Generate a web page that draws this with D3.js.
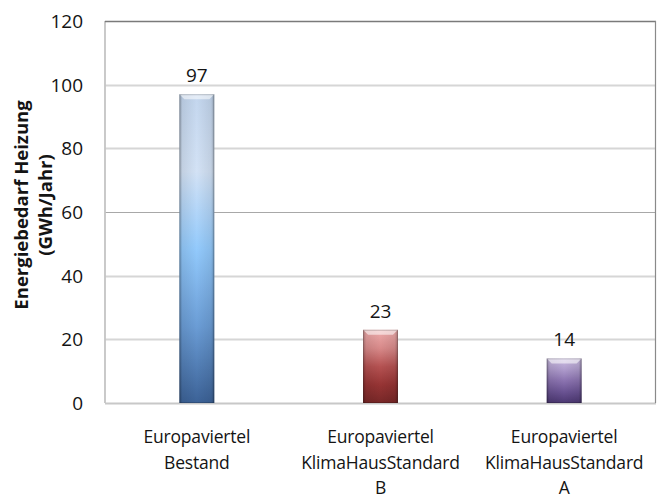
<!DOCTYPE html>
<html>
<head>
<meta charset="utf-8">
<script src="https://cdn.jsdelivr.net/npm/d3@7"></script>
<style>
  html, body { margin: 0; padding: 0; background: #fff; }
  svg { display: block; font-family: "Open Sans", "Noto Sans", sans-serif; }
</style>
</head>
<body>
<svg id="chart" width="657" height="500"></svg>
<script>
// Heating energy demand per scenario (GWh per year)
const categories = [
  ["Europaviertel", "Bestand"],
  ["Europaviertel", "KlimaHausStandard", "B"],
  ["Europaviertel", "KlimaHausStandard", "A"]
];
const values = [97, 23, 14];
const yTicks = [0, 20, 40, 60, 80, 100, 120];
const yTitle = ["Energiebedarf Heizung", "(GWh/Jahr)"];

// colour ramps for each bar, top to bottom
const ramps = [
  ["#c3d6ee", "#d3e2f5", "#93cafc", "#6b9dd6", "#3c6297"],
  ["#eeadad", "#d88a8a", "#b55252", "#963434", "#772727"],
  ["#cbbde2", "#ae9bcc", "#8b73b0", "#6a5393", "#4c3872"]
];

const svg = d3.select("#chart");
const margin = { left: 105, right: 1, top: 21, bottom: 97 };
const W = 657, H = 500;

const x = d3.scaleBand()
  .domain(d3.range(values.length))
  .range([margin.left, W - margin.right])
  .paddingInner(0.81)
  .paddingOuter(0.405);

const y = d3.scaleLinear()
  .domain([0, 120])
  .range([H - margin.bottom, margin.top]);

// gradients
const defs = svg.append("defs");
ramps.forEach((ramp, i) => {
  const g = defs.append("linearGradient")
    .attr("id", "bar" + i)
    .attr("x1", 0).attr("y1", 0).attr("x2", 0).attr("y2", 1);
  ramp.forEach((c, k) => {
    g.append("stop").attr("offset", k / (ramp.length - 1)).attr("stop-color", c);
  });
});
const side = defs.append("linearGradient").attr("id", "side")
  .attr("x1", 0).attr("y1", 0).attr("x2", 1).attr("y2", 0);
side.append("stop").attr("offset", 0).attr("stop-color", "#000").attr("stop-opacity", 0.28);
side.append("stop").attr("offset", 0.09).attr("stop-color", "#000").attr("stop-opacity", 0.08);
side.append("stop").attr("offset", 0.5).attr("stop-color", "#000").attr("stop-opacity", 0);
side.append("stop").attr("offset", 0.91).attr("stop-color", "#000").attr("stop-opacity", 0.08);
side.append("stop").attr("offset", 1).attr("stop-color", "#000").attr("stop-opacity", 0.28);

// gridlines
const x0 = margin.left, x1 = W - margin.right;
svg.append("g").selectAll("line")
  .data(yTicks.filter(t => t > 0 && t < 120))
  .join("line")
  .attr("x1", x0).attr("x2", x1)
  .attr("y1", d => Math.round(y(d)) + 0.5)
  .attr("y2", d => Math.round(y(d)) + 0.5)
  .attr("stroke", d => d === 60 ? "#a8a8a8" : "#d6d6d6")
  .attr("stroke-width", d => d === 60 ? 1.2 : 1.8);

// plot frame: light left/bottom axis, darker top/right edges
svg.append("line")
  .attr("x1", x0).attr("x2", x0).attr("y1", y(120)).attr("y2", y(0))
  .attr("stroke", "#c4c4c4").attr("stroke-width", 1.8);
svg.append("line")
  .attr("x1", x0).attr("x2", x1).attr("y1", y(0) + 0.5).attr("y2", y(0) + 0.5)
  .attr("stroke", "#c8c8c8").attr("stroke-width", 1.8);
svg.append("line")
  .attr("x1", x0).attr("x2", x1).attr("y1", y(120) + 0.5).attr("y2", y(120) + 0.5)
  .attr("stroke", "#7a7a7a").attr("stroke-width", 1.4);
svg.append("line")
  .attr("x1", x1 - 0.5).attr("x2", x1 - 0.5).attr("y1", y(120)).attr("y2", y(0))
  .attr("stroke", "#8a8a8a").attr("stroke-width", 1.2);

// y tick labels
svg.append("g").selectAll("text")
  .data(yTicks)
  .join("text")
  .attr("x", 83)
  .attr("y", d => y(d))
  .attr("dy", "0.36em")
  .attr("text-anchor", "end")
  .attr("font-size", 19)
  .attr("fill", "#141414")
  .text(d => d);

// y axis title (two lines, rotated)
const title = svg.append("text")
  .attr("transform", "translate(0,205) rotate(-90)")
  .attr("text-anchor", "middle")
  .attr("font-weight", "bold")
  .attr("font-size", 18.5)
  .attr("fill", "#141414");
yTitle.forEach((t, i) => {
  title.append("tspan")
    .attr("x", 0)
    .attr("y", 28 + i * 24)
    .text(t);
});

// bars with bevelled look
const bars = svg.append("g").selectAll("g")
  .data(values)
  .join("g");

bars.append("rect")
  .attr("x", (d, i) => x(i))
  .attr("y", d => y(d))
  .attr("width", x.bandwidth())
  .attr("height", d => y(0) - y(d))
  .attr("fill", (d, i) => `url(#bar${i})`);

bars.append("rect")
  .attr("x", (d, i) => x(i))
  .attr("y", d => y(d))
  .attr("width", x.bandwidth())
  .attr("height", d => y(0) - y(d))
  .attr("fill", "url(#side)");

// top bevel highlight
bars.append("path")
  .attr("d", (d, i) => {
    const a = x(i), b = x(i) + x.bandwidth(), t = y(d), bv = 5;
    return `M${a},${t}L${b},${t}L${b - bv},${t + bv}L${a + bv},${t + bv}Z`;
  })
  .attr("fill", "#fff")
  .attr("opacity", 0.55);

bars.append("rect")
  .attr("x", (d, i) => x(i) + 0.5)
  .attr("y", d => y(d) + 0.5)
  .attr("width", x.bandwidth() - 1)
  .attr("height", d => y(0) - y(d) - 1)
  .attr("fill", "none")
  .attr("stroke", "#000")
  .attr("stroke-opacity", 0.18);

// value labels
bars.append("text")
  .attr("x", (d, i) => x(i) + x.bandwidth() / 2)
  .attr("y", d => y(d) - 12)
  .attr("text-anchor", "middle")
  .attr("font-size", 19)
  .attr("fill", "#141414")
  .text(d => d);

// category labels
const cat = svg.append("g").selectAll("text")
  .data(categories)
  .join("text")
  .attr("text-anchor", "middle")
  .attr("font-size", 17.5)
  .attr("letter-spacing", -0.2)
  .attr("fill", "#141414");
cat.each(function (lines, i) {
  const cx = x(i) + x.bandwidth() / 2;
  d3.select(this).selectAll("tspan")
    .data(lines)
    .join("tspan")
    .attr("x", cx)
    .attr("y", (l, k) => 443 + k * 25.5)
    .text(l => l);
});
</script>
</body>
</html>
